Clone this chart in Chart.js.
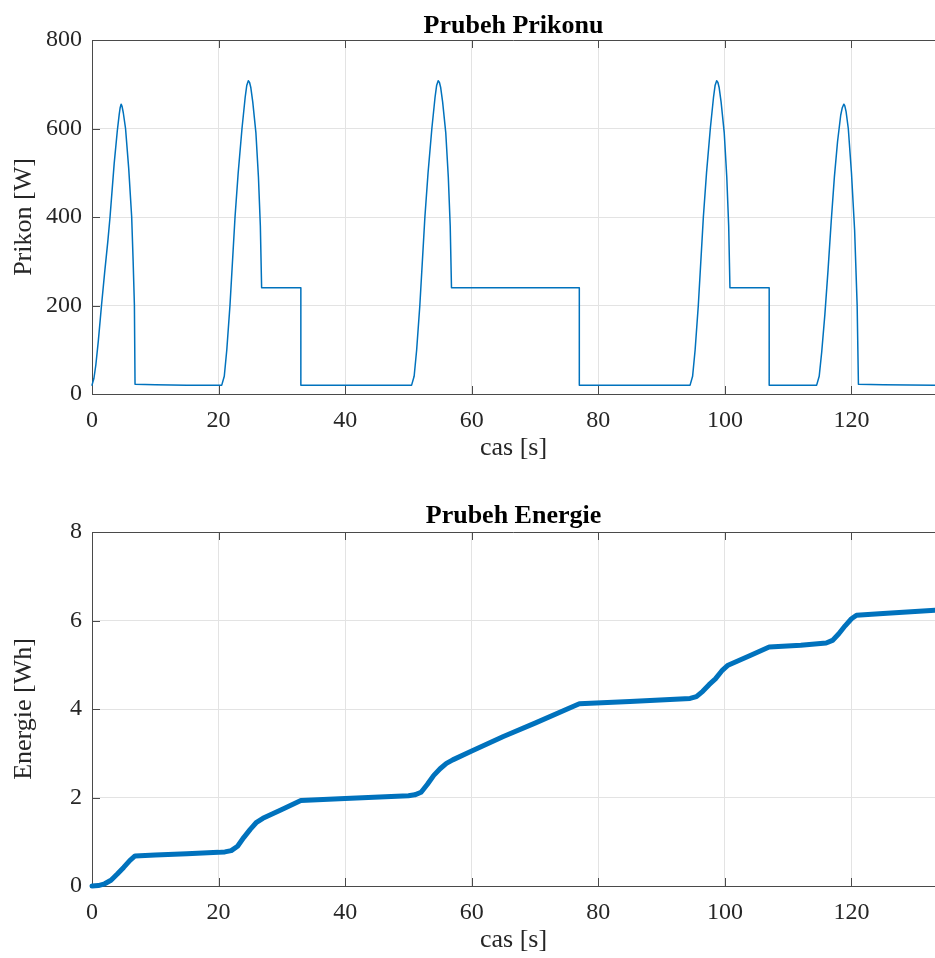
<!DOCTYPE html>
<html><head><meta charset="utf-8">
<script src="https://cdn.jsdelivr.net/npm/chart.js@4"></script>
<style>
html,body{margin:0;padding:0;background:#fff;overflow:hidden;width:935px;height:958px}
.box{position:absolute;left:0;width:935px;height:480px}
</style></head><body>
<div class="box" style="top:0"><canvas id="c1" width="935" height="480"></canvas></div>
<div class="box" style="top:492px"><canvas id="c2" width="935" height="480"></canvas></div>
<script>
// ---- data ----
const xTicks = [0, 20, 40, 60, 80, 100, 120];
const powerTicks = [0, 200, 400, 600, 800];
const energyTicks = [0, 2, 4, 6, 8];

const powerTime = [
  0, 0.3, 0.6, 1.0, 1.5, 2.0, 2.5, 2.85, 3.5, 4.0, 4.3, 4.45, 4.6, 4.75, 4.95, 5.3, 5.8, 6.27, 6.5, 6.7, 6.8,
  10, 15, 20.5,
  20.9, 21.3, 21.8, 22.2, 22.6, 23.1, 23.7, 24.2, 24.45, 24.7, 24.9, 25.1, 25.4, 25.9, 26.3, 26.6, 26.8, 33, 33,
  50.5,
  50.9, 51.3, 51.8, 52.2, 52.6, 53.1, 53.7, 54.2, 54.45, 54.7, 54.9, 55.1, 55.4, 55.9, 56.3, 56.6, 56.8, 77, 77,
  94.5,
  94.9, 95.3, 95.8, 96.2, 96.6, 97.1, 97.7, 98.2, 98.45, 98.7, 98.9, 99.1, 99.4, 99.9, 100.3, 100.6, 100.8, 107, 107,
  114.5,
  114.9, 115.3, 115.8, 116.3, 116.8, 117.3, 117.8, 118.3, 118.55, 118.8, 118.95, 119.15, 119.5, 120.0, 120.5, 120.9, 121.1,
  125, 133.2
];
const powerW = [
  20, 35, 65, 120, 200, 275, 345, 400, 520, 595, 632, 647, 655, 650, 635, 600, 510, 400, 300, 200, 22,
  21, 20, 20,
  40, 100, 200, 300, 400, 500, 600, 670, 697, 708, 704, 692, 660, 590, 490, 380, 240, 240, 20,
  20,
  40, 100, 200, 300, 400, 500, 600, 670, 697, 708, 704, 692, 660, 590, 490, 380, 240, 240, 20,
  20,
  40, 100, 200, 300, 400, 500, 600, 670, 697, 708, 704, 692, 660, 590, 490, 380, 240, 240, 20,
  20,
  40, 95, 180, 280, 390, 490, 570, 630, 647, 655, 651, 638, 600, 500, 370, 200, 22,
  21, 20
];

const energyTime = [
  0, 1, 2, 3, 4, 5, 6, 6.8, 10, 15, 20, 21, 22, 23, 24, 25, 26, 27, 30, 33,
  40, 50, 51, 52, 53, 54, 55, 56, 57, 60, 65, 70, 77,
  85, 94.5, 95.5, 96.5, 97.5, 98.5, 99.5, 100.5, 104, 107,
  112, 116, 117, 118, 119, 120, 120.8, 125, 133.2
];
const energyWh = [
  0, 0.01, 0.05, 0.13, 0.27, 0.42, 0.58, 0.68, 0.70, 0.73, 0.76, 0.77, 0.80, 0.90, 1.10, 1.28, 1.44, 1.53, 1.73, 1.93,
  1.98, 2.04, 2.06, 2.12, 2.30, 2.50, 2.65, 2.77, 2.85, 3.05, 3.38, 3.68, 4.12,
  4.17, 4.24, 4.28, 4.40, 4.55, 4.68, 4.86, 4.99, 5.21, 5.40,
  5.44, 5.49, 5.55, 5.70, 5.88, 6.04, 6.12, 6.16, 6.23
];

// ---- styling ----
const FONT = "'Liberation Serif', 'Times New Roman', serif";
const BLUE = '#0072BD';
const AXIS = '#4a4a4a';
const TXT = '#262626';
const X_MAX = 133.2;

const matlabBox = {
  id: 'matlabBox',
  beforeDatasetsDraw(chart) {
    const {ctx, chartArea: a, scales: {x, y}} = chart;
    ctx.save();
    ctx.strokeStyle = AXIS;
    ctx.lineWidth = 1;
    ctx.beginPath();
    ctx.moveTo(a.left, a.top + 0.5); ctx.lineTo(a.right, a.top + 0.5);
    x.ticks.forEach(t => {
      const px = Math.round(x.getPixelForValue(t.value)) + 0.5;
      ctx.moveTo(px, a.bottom); ctx.lineTo(px, a.bottom - 8);
      ctx.moveTo(px, a.top); ctx.lineTo(px, a.top + 8);
    });
    y.ticks.forEach(t => {
      const py = Math.round(y.getPixelForValue(t.value)) + 0.5;
      ctx.moveTo(a.left, py); ctx.lineTo(a.left + 8, py);
    });
    ctx.stroke();
    ctx.restore();
  },
  afterDraw(chart, args, opts) {
    const {ctx, chartArea: a} = chart;
    ctx.save();
    ctx.font = "bold 26px " + FONT;
    ctx.fillStyle = '#000';
    ctx.textAlign = 'center';
    ctx.textBaseline = 'alphabetic';
    ctx.fillText(opts.text, (a.left + a.right) / 2, a.top + opts.dy);
    ctx.restore();
  }
};

function makeChart(id, times, values, yTicks, yLabel, title, lw, dy) {
  const pts = times.map((t, i) => ({x: t, y: values[i]}));
  return new Chart(document.getElementById(id), {
    type: 'line',
    data: {datasets: [{
      data: pts, borderColor: BLUE, borderWidth: lw, pointRadius: 0,
      tension: 0, fill: false, clip: 6, borderJoinStyle: 'round', borderCapStyle: 'round'
    }]},
    options: {
      responsive: false, animation: false, events: [],
      layout: {padding: {left: 0, right: 0, top: 40, bottom: 11}},
      plugins: {legend: {display: false}, tooltip: {enabled: false}, title: {display: false},
                matlabBox: {text: title, dy: dy}},
      scales: {
        x: {
          type: 'linear', min: 0, max: X_MAX,
          afterFit: s => { s.height = 75; },
          afterBuildTicks: s => { s.ticks = xTicks.map(v => ({value: v})); },
          ticks: {font: {family: FONT, size: 24}, color: TXT, padding: 12, maxRotation: 0, includeBounds: false},
          grid: {color: '#e3e3e3', drawTicks: false, lineWidth: 1},
          border: {display: true, color: AXIS, width: 1},
          title: {display: true, text: 'cas [s]', font: {family: FONT, size: 26}, color: TXT, padding: {top: 0, bottom: 5}}
        },
        y: {
          type: 'linear', min: yTicks[0], max: yTicks[yTicks.length - 1],
          afterFit: s => { s.width = 92; },
          afterBuildTicks: s => { s.ticks = yTicks.map(v => ({value: v})); },
          ticks: {font: {family: FONT, size: 24}, color: TXT, padding: 10},
          grid: {color: '#e3e3e3', drawTicks: false, lineWidth: 1},
          border: {display: true, color: AXIS, width: 1},
          title: {display: true, text: yLabel, font: {family: FONT, size: 26}, color: TXT, padding: {top: 9, bottom: 0}}
        }
      }
    },
    plugins: [matlabBox]
  });
}

makeChart('c1', powerTime, powerW, powerTicks, 'Prikon [W]', 'Prubeh Prikonu', 1.5, -7);
makeChart('c2', energyTime, energyWh, energyTicks, 'Energie [Wh]', 'Prubeh Energie', 5, -9);
</script>
</body></html>
